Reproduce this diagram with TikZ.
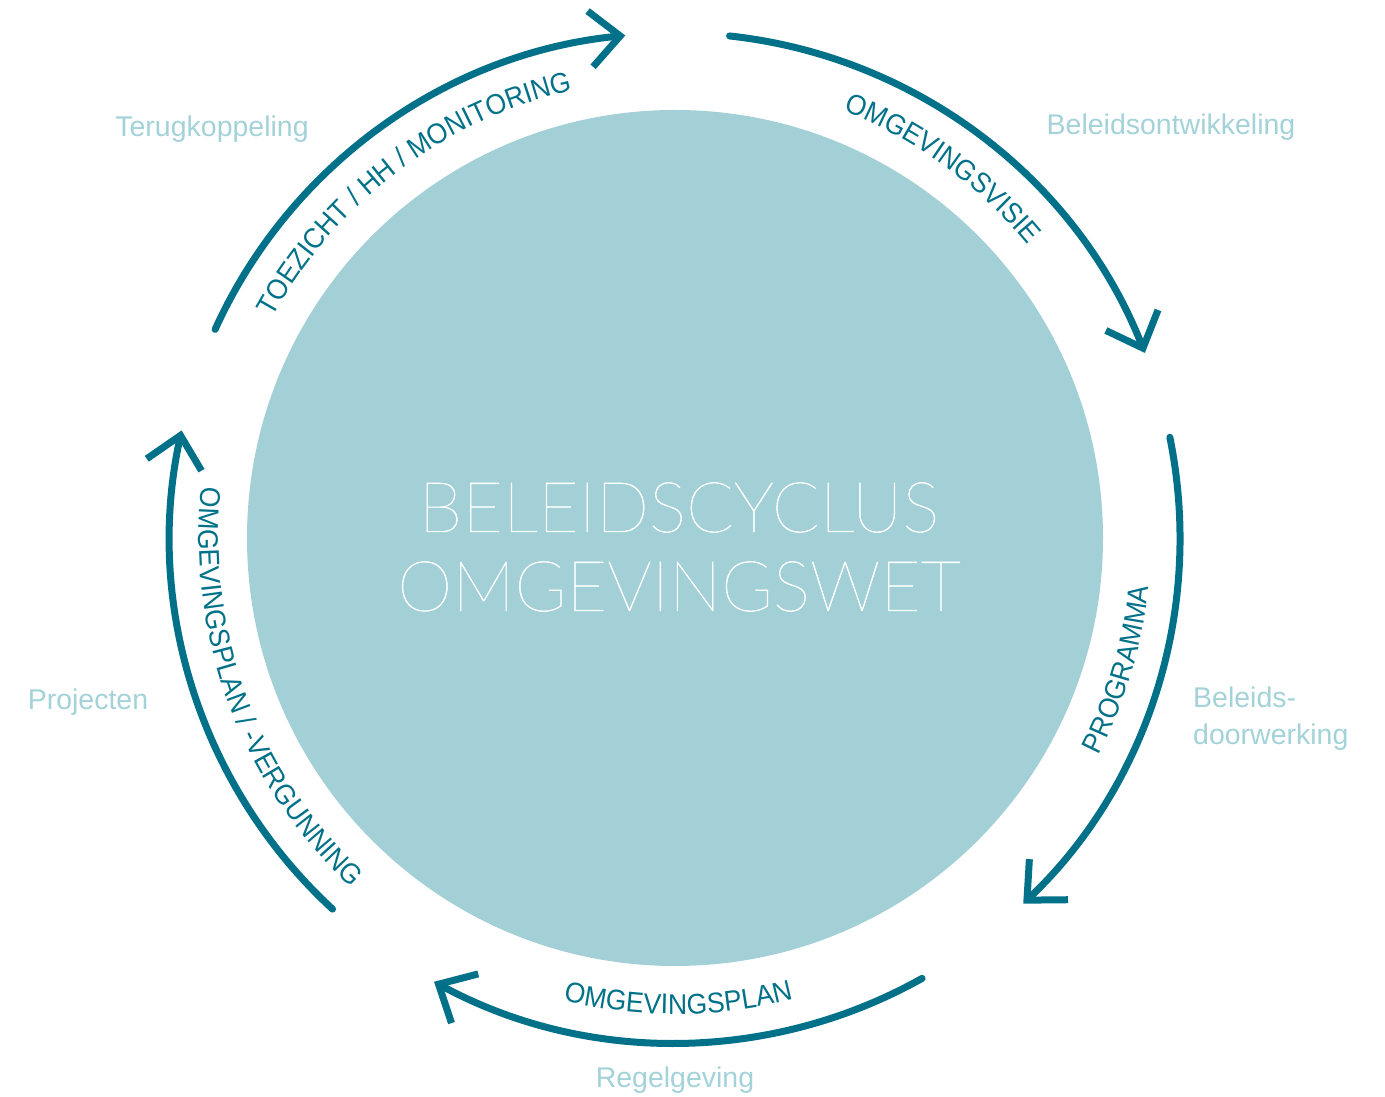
\documentclass[tikz,border=0pt]{standalone}
\usepackage{fontspec}
\usetikzlibrary{arrows.meta,decorations.text}
\newfontfamily\labelfont{Liberation Sans}
\newfontfamily\curvefamily{Liberation Sans}[FakeStretch=0.93]
\IfFontExistsTF{Lato Thin}{\newfontfamily\thinfont{Lato Thin}[FakeBold=0.7]}{%
  \IfFontExistsTF{Lato Light}{\newfontfamily\thinfont{Lato Light}}{%
    \newfontfamily\thinfont{Liberation Sans}}}
\definecolor{ring}{RGB}{0,113,136}
\definecolor{disc}{RGB}{162,208,214}
\definecolor{soft}{RGB}{163,210,216}
\newcommand\curvefont{\curvefamily\fontsize{28.5}{32}\selectfont}
\begin{document}
\begin{tikzpicture}[x=1pt,y=1pt,
  cyclearc/.style={draw=ring, line width=7pt, line cap=round,
    -{Straight Barb[length=30pt,width=56pt,line width=7pt]}},
  outerlabel/.style={font=\labelfont\fontsize{28.5}{34}\selectfont, text=soft, inner sep=0pt},
  cwtext/.style={decorate, decoration={text along path, text align=center,
    text={|\curvefont\color{ring}|#1}}},
  ccwtext/.style={decorate, decoration={text along path, text align=center,
    text={|\curvefont\color{ring}|#1}}}]
\useasboundingbox (0,0) rectangle (1385,1097);
\coordinate (C) at (675,559);
\node[circle, fill=disc, minimum size=856pt, inner sep=0pt] (disk) at (C) {};
\node[text=white, align=center, font=\thinfont\fontsize{70}{79}\selectfont] (title) at (679,550) {BELEIDSCYCLUS\\OMGEVINGSWET};

% arcs
\draw[cyclearc] ([shift={(155.6:505)}]C) arc[start angle=155.6, end angle=95.65, radius=505pt];
\draw[cyclearc] ([shift={(83.8:505)}]C) arc[start angle=83.8, end angle=21.5, radius=505pt];
\draw[cyclearc] ([shift={(11.5:505)}]C) arc[start angle=11.5, end angle=-46.4, radius=505pt];
\draw[cyclearc] ([shift={(-60.7:505)}]C) arc[start angle=-60.7, end angle=-118.5, radius=505pt];
\draw[cyclearc] ([shift={(-132.7:505)}]C) arc[start angle=-132.7, end angle=-192.3, radius=505pt];

% curved texts
\path[cwtext={TOEZICHT / HH / MONITORING}] ([shift={(187.1:459)}]C) arc[start angle=187.1, end angle=67.1, radius=459pt];
\path[cwtext={OMGEVINGSVISIE}] ([shift={(114.1:459)}]C) arc[start angle=114.1, end angle=-5.9, radius=459pt];
\path[ccwtext={PROGRAMMA}] ([shift={(-76.5:476)}]C) arc[start angle=-76.5, end angle=43.5, radius=476pt];
\path[ccwtext={OMGEVINGSPLAN}] ([shift={(-149.6:476)}]C) arc[start angle=-149.6, end angle=-29.6, radius=476pt];
\path[ccwtext={OMGEVINGSPLAN / -VERGUNNING}] ([shift={(140.5:476)}]C) arc[start angle=140.5, end angle=260.5, radius=476pt];

% outer labels
\node[outerlabel, anchor=base] (lab1) at (212,960) {Terugkoppeling};
\node[outerlabel, anchor=base] (lab2) at (1171,962) {Beleidsontwikkeling};
\node[outerlabel, anchor=base west] (lab3a) at (1193,389) {Beleids-};
\node[outerlabel, anchor=base west] (lab3b) at (1193,352) {doorwerking};
\node[outerlabel, anchor=base] (lab4) at (88,387) {Projecten};
\node[outerlabel, anchor=base] (lab5) at (675,9) {Regelgeving};
\end{tikzpicture}
\end{document}
